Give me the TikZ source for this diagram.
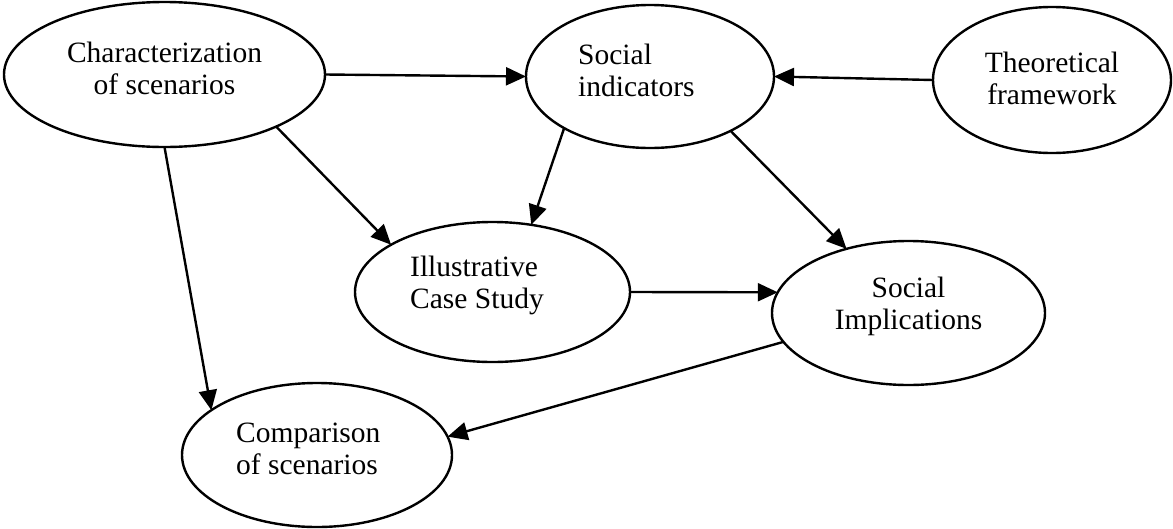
\documentclass[tikz,border=0pt]{standalone}
\usepackage{fontspec}
\setmainfont{Liberation Serif}
\usetikzlibrary{shapes.geometric,arrows.meta}
\tikzset{
  oval/.style={draw, ellipse, line width=2.4pt, inner sep=0pt, outer sep=0pt},
  lbl/.style={inner sep=0pt, font=\fontsize{29.5}{32}\selectfont},
  conn/.style={line width=2.4pt, -{Triangle[length=20pt,width=18pt]}}
}
\begin{document}
\begin{tikzpicture}[x=1pt,y=-1pt]
\useasboundingbox (0,0) rectangle (1173,528);
% ellipses
\node[oval, minimum width=321pt, minimum height=145pt] (c1) at (164.5,74.5) {};
\node[oval, minimum width=248pt, minimum height=143pt] (c2) at (650,76.5) {};
\node[oval, minimum width=238pt, minimum height=146pt] (c3) at (1052,80) {};
\node[oval, minimum width=275pt, minimum height=140pt] (c4) at (492.5,292) {};
\node[oval, minimum width=273pt, minimum height=144pt] (c5) at (908.5,313) {};
\node[oval, minimum width=270pt, minimum height=144pt] (c6) at (317,455) {};
% labels
\node[lbl, align=center] (t1) at (164.5,68.5) {Characterization\\of scenarios};
\node[lbl, align=left, anchor=west] (t2) at (578,70) {Social\\indicators};
\node[lbl, align=center] (t3) at (1052,78) {Theoretical\\framework};
\node[lbl, align=left, anchor=west] (t4) at (410,285) {Illustrative\\Case Study};
\node[lbl, align=center] (t5) at (908.5,306) {Social\\Implications};
\node[lbl, align=left, anchor=west] (t6) at (236,449) {Comparison\\of scenarios};
% connectors
\draw[conn] (c1.east) -- (c2.west);
\draw[conn] (c3.west) -- (c2.east);
\draw[conn] (c1.-25) -- (c4.155);
\draw[conn] (c2.-149) -- (c4.60);
\draw[conn] (c2.-34) -- (c5.134);
\draw[conn] (c4.east) -- (c5.171);
\draw[conn] (c1.south) -- (c6.157);
\draw[conn] (c5.-167) -- (c6.8);
\end{tikzpicture}
\end{document}
